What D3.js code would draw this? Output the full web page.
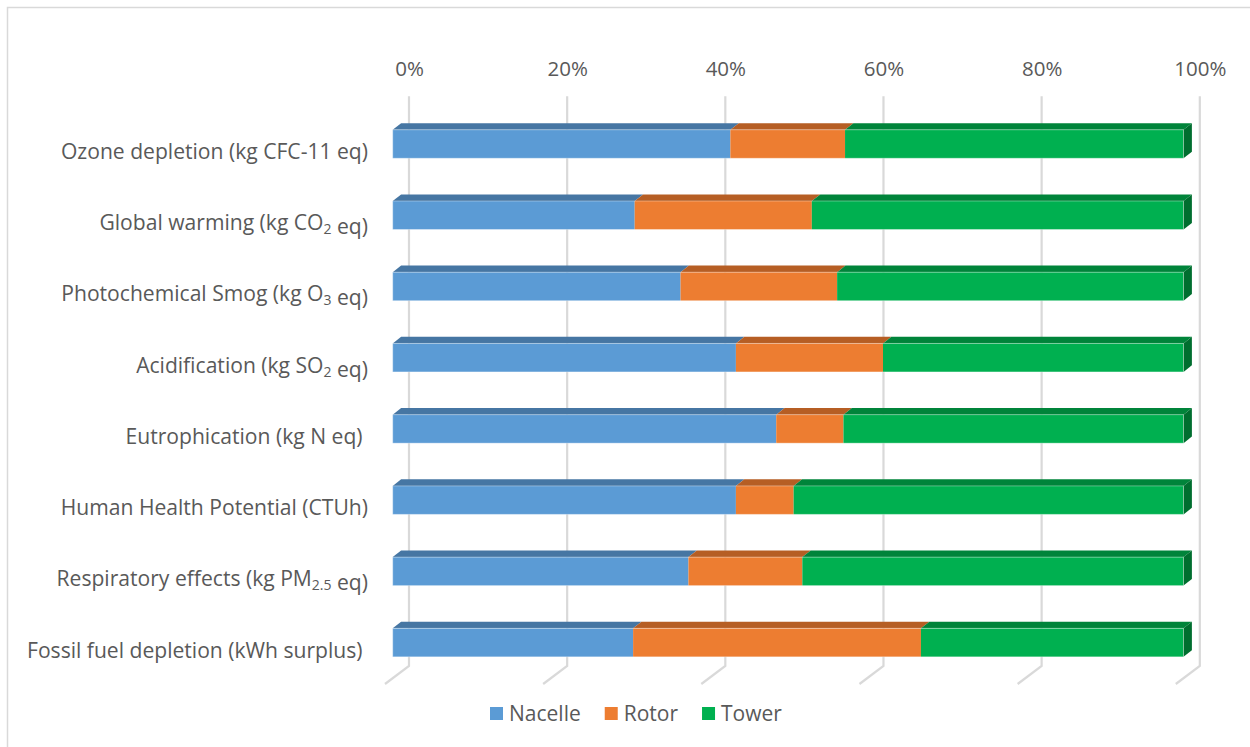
<!DOCTYPE html>
<html>
<head>
<meta charset="utf-8">
<script src="https://cdn.jsdelivr.net/npm/d3@7/dist/d3.min.js"></script>
<style>
  html, body { margin: 0; padding: 0; background: #fff; }
  svg { display: block; font-family: "Open Sans", "Noto Sans", sans-serif; }
  text { white-space: pre; }
</style>
</head>
<body>
<svg id="chart" width="1250" height="747"></svg>
<script>
// Impact categories (top to bottom); "_{..}" marks a subscript
const categories = [
  "Ozone depletion (kg CFC-11 eq)",
  "Global warming (kg CO_{2} eq)",
  "Photochemical Smog (kg O_{3} eq)",
  "Acidification (kg SO_{2} eq)",
  "Eutrophication (kg N eq) ",
  "Human Health Potential (CTUh)",
  "Respiratory effects (kg PM_{2.5} eq)",
  "Fossil fuel depletion (kWh surplus) "
];

// Share of each component in every impact category (%)
const nacelle = [42.7, 30.6, 36.4, 43.4, 48.5, 43.4, 37.4, 30.4];
const rotor   = [14.5, 22.4, 19.8, 18.6,  8.5,  7.3, 14.4, 36.4];
const tower   = [42.8, 47.0, 43.8, 38.0, 43.0, 49.3, 48.2, 33.2];

const seriesNames = ["Nacelle", "Rotor", "Tower"];
const tickValues = [0, 20, 40, 60, 80, 100];

// Colours: front face, top face, side face
const palette = {
  Nacelle: { front: "#5B9BD5", top: "#4676A3", side: "#3E6A93" },
  Rotor:   { front: "#ED7D31", top: "#B65E24", side: "#A35420" },
  Tower:   { front: "#00B050", top: "#00843A", side: "#006E2F" }
};

const svg = d3.select("#chart");

// Chart area frame
svg.append("rect")
  .attr("x", 7.5).attr("y", 7.5)
  .attr("width", 1260).attr("height", 760)
  .attr("fill", "#fff")
  .attr("stroke", "#d9d9d9").attr("stroke-width", 1.5);

// Oblique projection: front plane of the bars, bar depth and back wall offset
const x = d3.scaleLinear().domain([0, 100]).range([392.7, 1183.5]);
const wallDx = 16.3, wallDy = -12.2;   // front plane -> back wall
const floorDx = -7.7, floorDy = 5.8;   // front plane -> front edge of floor
const barDx = 8.4, barDy = -6.6;       // bar depth

const y = d3.scaleBand()
  .domain(categories)
  .range([108.4, 678.2])
  .paddingInner(0.6)
  .paddingOuter(0.3);

// Gridlines on the back wall and the floor
const grid = svg.append("g");
tickValues.forEach(v => {
  const bx = x(v) + wallDx;
  const topY = y.range()[0] + wallDy;
  const botY = y.range()[1] + wallDy;
  grid.append("path")
    .attr("d", `M${bx},${topY}L${bx},${botY}L${x(v) + floorDx},${y.range()[1] + floorDy}`)
    .attr("fill", "none")
    .attr("stroke", "#d9d9d9")
    .attr("stroke-width", 2.2);
});

// Value axis labels along the top
const axis = d3.axisTop(x)
  .tickValues(tickValues)
  .tickFormat(d => d + "%")
  .tickSize(0)
  .tickPadding(0);
const axisG = svg.append("g")
  .attr("transform", `translate(${wallDx},76)`)
  .call(axis);
axisG.select(".domain").remove();
axisG.selectAll("text")
  .attr("font-family", "'Open Sans', sans-serif")
  .attr("font-size", 20.5)
  .attr("fill", "#595959")
  .attr("dy", 0);

// Stack the components
const rows = categories.map((c, i) => ({ cat: c, Nacelle: nacelle[i], Rotor: rotor[i], Tower: tower[i] }));
const stacked = d3.stack().keys(seriesNames)(rows);

const bars = svg.append("g");
stacked.forEach((layer, li) => {
  const col = palette[layer.key];
  const g = bars.append("g").attr("class", "series-" + layer.key);
  layer.forEach((d, i) => {
    const x0 = x(d[0]), x1 = x(d[1]);
    const y0 = y(categories[i]), h = y.bandwidth();
    // top face
    g.append("path")
      .attr("d", `M${x0},${y0}L${x0 + barDx},${y0 + barDy}L${x1 + barDx},${y0 + barDy}L${x1},${y0}Z`)
      .attr("fill", col.top);
    // front face
    g.append("rect")
      .attr("x", x0).attr("y", y0)
      .attr("width", x1 - x0).attr("height", h)
      .attr("fill", col.front);
    // right face of the last segment
    if (li === stacked.length - 1) {
      g.append("path")
        .attr("d", `M${x1},${y0}L${x1 + barDx},${y0 + barDy}L${x1 + barDx},${y0 + h + barDy}L${x1},${y0 + h}Z`)
        .attr("fill", col.side);
    }
  });
});

// Thin light edge along each bar's front face
categories.forEach(c => {
  bars.append("rect")
    .attr("x", x(0)).attr("y", y(c))
    .attr("width", x(100) - x(0)).attr("height", y.bandwidth())
    .attr("fill", "none")
    .attr("stroke", "#ffffff").attr("stroke-opacity", 0.35)
    .attr("stroke-width", 1);
});

// Category labels with subscripts
const labelG = svg.append("g")
  .attr("font-size", 21.1)
  .attr("fill", "#595959");
categories.forEach(c => {
  const t = labelG.append("text")
    .attr("x", 368)
    .attr("y", y(c) + y.bandwidth() / 2 + 15)
    .attr("text-anchor", "end");
  const parts = c.split(/(_\{[^}]*\})/).filter(s => s.length);
  parts.forEach(p => {
    const m = p.match(/^_\{([^}]*)\}$/);
    if (m) {
      t.append("tspan").attr("font-size", 14).attr("dy", 4).text(m[1]);
      t.append("tspan").attr("dy", -4).text("");
    } else {
      t.append("tspan").text(p);
    }
  });
});

// Legend
const legend = svg.append("g").attr("font-size", 21).attr("fill", "#595959");
let lx = 490;
seriesNames.forEach(name => {
  legend.append("rect")
    .attr("x", lx).attr("y", 707)
    .attr("width", 13).attr("height", 13)
    .attr("fill", palette[name].front);
  const txt = legend.append("text")
    .attr("x", lx + 19).attr("y", 721)
    .text(name);
  lx += 19 + txt.node().getComputedTextLength() + 24;
});
</script>
</body>
</html>
